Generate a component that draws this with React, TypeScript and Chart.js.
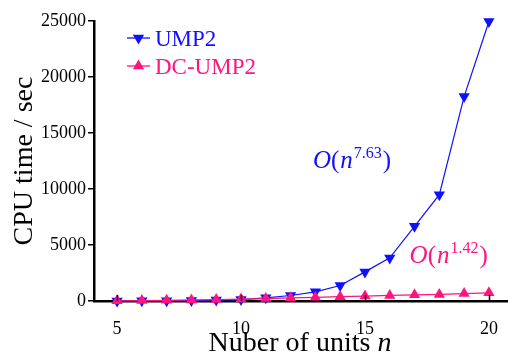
import React, { useEffect, useRef } from 'react';
import { Chart, registerables } from 'chart.js';

Chart.register(...registerables);

// ---- data ----
const nUnits = [5, 6, 7, 8, 9, 10, 11, 12, 13, 14, 15, 16, 17, 18, 19, 20];
const ump2Times = [10, 20, 30, 50, 80, 130, 280, 490, 820, 1380, 2600, 3850, 6670, 9490, 18250, 24950];
const dcUmp2Times = [20, 40, 60, 90, 130, 170, 220, 280, 330, 390, 440, 500, 550, 590, 660, 730];
const yTickValues = [0, 5000, 10000, 15000, 20000, 25000];
const xTickValues = [5, 10, 15, 20];
const seriesNames = ['UMP2', 'DC-UMP2'];
const yTitle = 'CPU time / sec';
const xTitleMain = 'Nuber of units ';
const xTitleVar = 'n';
const umpOrder = ['7.63'];
const dcOrder = ['1.42'];

const BLUE = '#1010ff';
const PINK = '#ff1480';
const SERIF = "'Liberation Serif', 'Times New Roman', serif";

Chart.defaults.font.family = SERIF;

type Run = { text: string; font: string; dy?: number; gap?: number };

function runsWidth(ctx: CanvasRenderingContext2D, runs: Run[]) {
  let w = 0;
  for (const r of runs) {
    ctx.font = r.font;
    w += ctx.measureText(r.text).width + (r.gap || 0);
  }
  return w;
}

function drawRuns(ctx: CanvasRenderingContext2D, x: number, y: number, runs: Run[], color: string) {
  ctx.fillStyle = color;
  ctx.textBaseline = 'alphabetic';
  ctx.textAlign = 'left';
  let cx = x;
  for (const r of runs) {
    ctx.font = r.font;
    ctx.fillText(r.text, cx, y + (r.dy || 0));
    cx += ctx.measureText(r.text).width + (r.gap || 0);
  }
}

function bigO(exp: string): Run[] {
  return [
    { text: 'O', font: `italic 25px ${SERIF}` },
    { text: '(', font: `25px ${SERIF}`, gap: 1 },
    { text: 'n', font: `italic 25px ${SERIF}`, gap: 1 },
    { text: exp, font: `16px ${SERIF}`, dy: -10, gap: 1 },
    { text: ')', font: `25px ${SERIF}` },
  ];
}

function triangle(ctx: CanvasRenderingContext2D, cx: number, cy: number, r: number, down: boolean) {
  ctx.beginPath();
  if (down) {
    ctx.moveTo(cx - r * 0.866, cy - r * 0.5);
    ctx.lineTo(cx + r * 0.866, cy - r * 0.5);
    ctx.lineTo(cx, cy + r);
  } else {
    ctx.moveTo(cx - r * 0.866, cy + r * 0.5);
    ctx.lineTo(cx + r * 0.866, cy + r * 0.5);
    ctx.lineTo(cx, cy - r);
  }
  ctx.closePath();
  ctx.fill();
}

const decorPlugin = {
  id: 'decor',
  afterDatasetsDraw(chart: any) {
    const ctx: CanvasRenderingContext2D = chart.ctx;
    const xs = chart.scales.x;
    const ys = chart.scales.y;
    const area = chart.chartArea;
    ctx.save();

    // x tick marks (inside, pointing up)
    ctx.strokeStyle = '#000';
    ctx.lineWidth = 1.5;
    for (const v of xTickValues) {
      const px = Math.round(xs.getPixelForValue(v)) + 0.5;
      ctx.beginPath();
      ctx.moveTo(px, area.bottom);
      ctx.lineTo(px, area.bottom - 6);
      ctx.stroke();
    }

    // x-axis title with italic n
    const xt: Run[] = [
      { text: xTitleMain, font: `28px ${SERIF}` },
      { text: xTitleVar, font: `italic 28px ${SERIF}` },
    ];
    const w = runsWidth(ctx, xt);
    drawRuns(ctx, 300 - w / 2, 351, xt, '#000');

    // complexity labels
    drawRuns(ctx, xs.getPixelForValue(12.9), ys.getPixelForValue(11900), bigO(umpOrder[0]), BLUE);
    drawRuns(ctx, xs.getPixelForValue(16.8), ys.getPixelForValue(3430), bigO(dcOrder[0]), PINK);

    // legend
    const items = [
      { name: seriesNames[0], color: BLUE, down: true },
      { name: seriesNames[1], color: PINK, down: false },
    ];
    items.forEach((it, i) => {
      const cy = 38 + i * 28;
      ctx.strokeStyle = it.color;
      ctx.lineWidth = 1.3;
      ctx.beginPath();
      ctx.moveTo(127, cy);
      ctx.lineTo(150, cy);
      ctx.stroke();
      ctx.fillStyle = it.color;
      triangle(ctx, 138.5, cy, 6.5, it.down);
      ctx.font = `23px ${SERIF}`;
      ctx.textBaseline = 'alphabetic';
      ctx.textAlign = 'left';
      ctx.fillText(it.name, 155, cy + 7.5);
    });

    ctx.restore();
  },
};

export default function App() {
  const ref = useRef<HTMLCanvasElement>(null);

  useEffect(() => {
    if (!ref.current) return;
    const chart = new Chart(ref.current, {
      type: 'line',
      data: {
        labels: nUnits,
        datasets: [
          {
            label: seriesNames[0],
            data: nUnits.map((n, i) => ({ x: n, y: ump2Times[i] })),
            borderColor: BLUE,
            backgroundColor: BLUE,
            borderWidth: 1.2,
            pointStyle: 'triangle',
            rotation: 180,
            pointRadius: 6.5,
            pointBorderWidth: 0,
            clip: false as any,
            order: 2,
          },
          {
            label: seriesNames[1],
            data: nUnits.map((n, i) => ({ x: n, y: dcUmp2Times[i] })),
            borderColor: PINK,
            backgroundColor: PINK,
            borderWidth: 1.2,
            pointStyle: 'triangle',
            pointRadius: 6.5,
            pointBorderWidth: 0,
            clip: false as any,
            order: 1,
          },
        ],
      },
      options: {
        responsive: false,
        animation: false,
        events: [],
        layout: { autoPadding: false, padding: { top: 21, left: 0, right: 0, bottom: 0 } },
        plugins: {
          legend: { display: false },
          tooltip: { enabled: false },
        },
        scales: {
          x: {
            type: 'linear',
            min: 4.07,
            max: 20.77,
            afterFit: (s: any) => {
              s.height = 55;
              s.paddingLeft = 0;
              s.paddingRight = 0;
            },
            afterBuildTicks: (s: any) => {
              s.ticks = xTickValues.map((v) => ({ value: v }));
            },
            grid: { display: false },
            border: { display: true, color: '#000', width: 2.5 },
            ticks: {
              color: '#000',
              font: { family: SERIF, size: 18 },
              padding: 9,
              maxRotation: 0,
            },
          },
          y: {
            type: 'linear',
            min: 0,
            max: 25000,
            afterFit: (s: any) => {
              s.width = 94;
              s.paddingTop = 0;
              s.paddingBottom = 0;
            },
            afterBuildTicks: (s: any) => {
              s.ticks = yTickValues.map((v) => ({ value: v }));
            },
            grid: {
              display: true,
              drawOnChartArea: false,
              drawTicks: true,
              tickLength: 6,
              color: '#000',
              lineWidth: 1.5,
            },
            border: { display: true, color: '#000', width: 2.5 },
            ticks: {
              color: '#000',
              font: { family: SERIF, size: 18 },
              padding: 2,
              callback: (v: any) => String(v),
            },
            title: {
              display: true,
              text: yTitle,
              color: '#000',
              font: { family: SERIF, size: 28 },
              padding: { top: 8, bottom: 0 },
            },
          },
        },
      },
      plugins: [decorPlugin],
    });
    return () => chart.destroy();
  }, []);

  return (
    <div style={{ position: 'absolute', left: 0, top: 0, width: 508, height: 356, background: '#fff' }}>
      <canvas ref={ref} width={508} height={356} style={{ display: 'block' }} />
    </div>
  );
}
